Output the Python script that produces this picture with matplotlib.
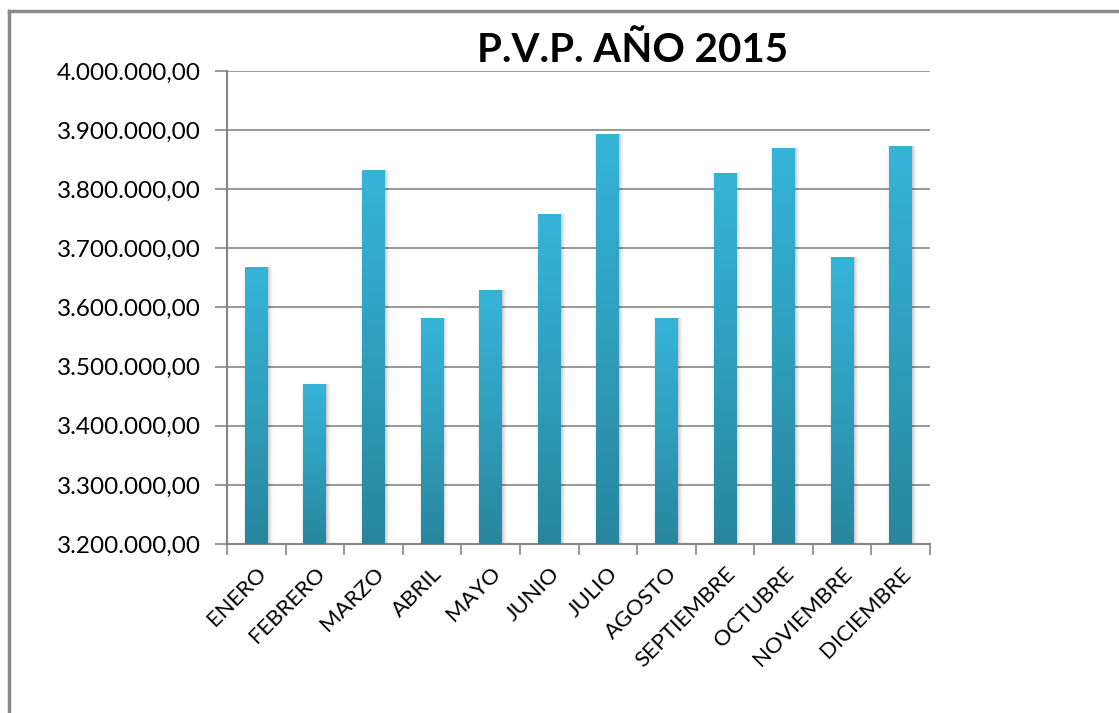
import numpy as np
import matplotlib
matplotlib.use("Agg")
import matplotlib.pyplot as plt
from matplotlib.lines import Line2D
from matplotlib.colors import LinearSegmentedColormap
from matplotlib.ticker import FuncFormatter
import matplotlib.transforms as mtransforms

months = ["ENERO", "FEBRERO", "MARZO", "ABRIL", "MAYO", "JUNIO", "JULIO",
          "AGOSTO", "SEPTIEMBRE", "OCTUBRE", "NOVIEMBRE", "DICIEMBRE"]
pvp = [3668000, 3471000, 3833000, 3582000, 3629000, 3758000, 3894000,
       3583000, 3828000, 3870000, 3685000, 3873000]
y_ticks = [3200000, 3300000, 3400000, 3500000, 3600000, 3700000, 3800000, 3900000, 4000000]

plt.rcParams['font.family'] = ['Lato', 'DejaVu Sans']
grey = "#868686"

fig = plt.figure(figsize=(11.19, 7.13), dpi=100)
ax = fig.add_axes([227/1119, 169/713, 703/1119, 473/713])

x = np.arange(len(months))
heights = [v - y_ticks[0] for v in pvp]
bars = ax.bar(x, heights, bottom=y_ticks[0], width=0.39,
              color="none", edgecolor="none", zorder=3)

# soft shadow on the sides
for off, a in [(1, 0.06), (2, 0.05), (3, 0.04), (4, 0.03), (5, 0.02), (-1, 0.04), (-2, 0.02)]:
    tr = mtransforms.offset_copy(ax.transData, fig=fig, x=off, y=0, units='dots')
    ax.bar(x, heights, bottom=y_ticks[0], width=0.39,
           color="black", alpha=a, edgecolor="none", zorder=2, transform=tr)

# vertical gradient per bar
cmap = LinearSegmentedColormap.from_list("bar", ["#27869d", "#2f9fbd", "#36b4d8"])
grad = np.linspace(0, 1, 256).reshape(-1, 1)
for b in bars:
    x0, y0 = b.get_x(), b.get_y()
    im = ax.imshow(grad, cmap=cmap, origin="lower", aspect="auto",
                   extent=(x0, x0 + b.get_width(), y0, y0 + b.get_height()),
                   zorder=4)
    im.set_clip_path(b)

ax.set_xlim(-0.5, len(months) - 0.5)
ax.set_ylim(y_ticks[0], y_ticks[-1])
ax.set_yticks(y_ticks)
ax.yaxis.set_major_formatter(FuncFormatter(
    lambda v, p: "{:,.2f}".format(v).replace(",", "X").replace(".", ",").replace("X", ".")))
ax.grid(axis="y", color=grey, linewidth=1.2, zorder=1)
ax.set_axisbelow(True)

ax.set_xticks(np.arange(-0.5, len(months), 1.0))
ax.set_xticklabels([])
ax.set_xticks(x, minor=True)
ax.set_xticklabels(months, minor=True, rotation=45, ha="right", va="top",
                   rotation_mode="anchor", fontsize=16)
ax.tick_params(axis="x", which="minor", length=0, pad=14)
ax.tick_params(axis="x", which="major", length=8, width=1.2, color=grey)
ax.tick_params(axis="y", length=9, width=1.2, color=grey, labelsize=17.5, pad=10)

for s in ["top", "right"]:
    ax.spines[s].set_visible(False)
for s in ["left", "bottom"]:
    ax.spines[s].set_color(grey)
    ax.spines[s].set_linewidth(1.5)

fig.text(633/1119, 1 - 50/713, "P.V.P. AÑO 2015", ha="center", va="center",
         fontsize=29, fontweight="bold")

# outer frame (left and top edges)
fig.add_artist(Line2D([9/1119, 9/1119], [0, 1 - 11/713], color="#8a8a8a", linewidth=2.5))
fig.add_artist(Line2D([9/1119, 1], [1 - 11/713, 1 - 11/713], color="#8a8a8a", linewidth=2.5))

fig.savefig("out.png", dpi=100)
